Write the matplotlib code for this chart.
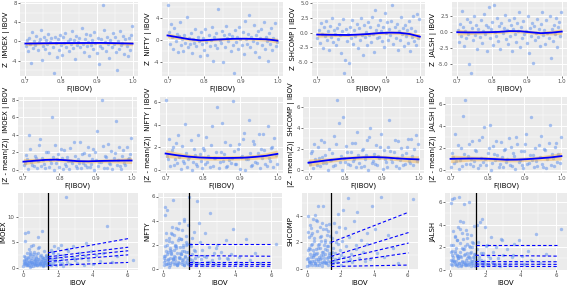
import matplotlib
matplotlib.use("Agg")
import matplotlib.pyplot as plt
import numpy as np
from matplotlib.ticker import MultipleLocator, AutoMinorLocator, FormatStrFormatter

plt.rcParams['axes.unicode_minus'] = False
plt.rcParams['font.family'] = ['DejaVu Sans']

names = ["IMOEX", "NIFTY", "SHCOMP", "JALSH"]

# ---- row 1 / row 2 : Z | IBOV against F(IBOV), upper tail ----
f_ibov = [0.701,0.704,0.707,0.710,0.713,0.716,0.719,0.722,0.725,0.728,
          0.731,0.734,0.737,0.740,0.743,0.746,0.749,0.752,0.755,0.758,
          0.761,0.764,0.767,0.770,0.773,0.776,0.779,0.782,0.785,0.788,
          0.791,0.794,0.797,0.800,0.803,0.806,0.809,0.812,0.815,0.818,
          0.821,0.824,0.827,0.830,0.833,0.836,0.839,0.842,0.845,0.848,
          0.851,0.854,0.857,0.860,0.863,0.866,0.869,0.872,0.875,0.878,
          0.881,0.884,0.887,0.890,0.893,0.896,0.899,0.902,0.905,0.908,
          0.911,0.914,0.917,0.920,0.923,0.926,0.929,0.932,0.935,0.938,
          0.941,0.944,0.947,0.950,0.953,0.956,0.959,0.962,0.965,0.968,
          0.971,0.974,0.977,0.980,0.983,0.986,0.989,0.992,0.995,0.998]

z_imoex = [-1.0,0.3,-2.1,0.8,-0.5,-4.4,1.9,-1.3,0.1,-0.8,
           1.2,-1.8,-0.2,0.6,2.4,-3.9,-0.9,0.9,-1.5,0.2,
           -0.6,1.6,-2.4,-0.1,0.7,-1.2,-6.5,1.0,-0.4,-3.3,
           0.4,-1.7,1.4,-0.7,-2.8,0.9,-0.3,1.8,-1.1,0.0,
           -1.9,0.6,-0.5,2.1,-1.4,0.3,-3.6,1.1,-0.8,-0.2,
           0.8,-1.2,2.8,-0.6,-2.2,0.4,1.5,-1.0,-0.1,-3.0,
           1.3,-0.7,0.2,-1.6,2.0,-0.4,-2.5,0.7,-4.8,-0.9,
           0.5,-1.3,7.5,2.3,-0.2,-2.0,1.0,-0.6,-3.4,0.3,
           -1.1,1.7,-0.5,0.9,-2.3,-6.0,0.1,-1.5,2.2,-0.8,
           -0.3,1.2,-2.7,0.4,-1.0,-3.0,0.8,-1.8,1.4,3.2]
z_nifty = [6.3,1.4,-0.8,2.9,0.5,-1.6,2.2,-0.3,1.1,-2.3,
           0.7,3.2,-1.0,0.2,-2.0,0.9,-0.5,4.2,-1.4,0.4,
           -0.8,1.3,-2.5,0.1,-0.6,2.0,-1.2,0.6,-0.2,-3.0,
           1.5,-0.7,0.3,-1.8,1.9,-0.4,-2.8,0.8,-1.1,-0.1,
           2.3,-3.8,0.5,-0.9,1.2,-1.5,5.7,0.0,-0.6,1.7,
           -4.0,0.9,-1.3,2.6,0.4,-0.2,1.0,-2.1,0.7,-0.9,
           -6.0,1.8,-0.4,0.6,-1.7,2.4,0.2,-1.0,1.4,-2.6,
           3.4,0.1,-0.8,1.1,4.6,-1.4,0.5,-0.3,2.7,-2.2,
           0.8,-0.5,1.6,-3.1,0.3,2.0,-0.9,3.3,-1.6,0.6,
           -0.2,-3.8,1.2,-0.7,2.1,-1.9,0.4,3.0,-1.2,-0.4]
z_shcomp = [-0.9,0.4,-1.8,1.6,-0.3,-2.6,0.9,-0.6,2.0,-1.3,
            0.2,-3.0,1.1,-0.8,2.5,-1.6,0.5,-0.2,-2.2,0.8,
            -1.1,1.4,-0.5,-3.4,0.3,2.3,-6.8,-4.6,0.6,-1.5,
            -0.2,-5.2,1.0,-0.9,2.1,-1.9,0.4,-0.6,1.5,-2.7,
            0.7,-1.2,2.4,-0.4,-3.8,1.2,-0.8,0.1,-2.1,1.8,
            -0.5,0.9,-1.6,2.7,-0.2,-3.3,3.8,0.5,-1.0,1.3,
            -0.7,2.2,0.3,-1.5,1.0,-2.4,3.3,-0.1,1.7,-1.2,
            0.6,-0.4,2.0,4.6,-2.0,0.9,-0.9,1.5,-3.0,0.2,
            -1.3,2.6,-0.3,0.8,-2.3,1.2,-0.6,0.4,-1.8,2.0,
            -3.1,0.7,-0.8,2.8,-1.5,0.3,-2.2,3.2,-1.0,2.3]
z_jalsh = [0.3,-1.5,1.2,-0.6,3.3,0.8,-2.2,0.1,-0.9,2.0,
           -0.3,-4.9,1.5,-6.3,0.6,-1.2,2.4,-0.5,1.0,-2.6,
           0.4,-0.8,1.8,-1.7,0.2,2.7,-0.4,1.1,-3.0,0.7,
           3.9,-1.0,0.5,1.6,-2.0,4.1,0.0,-0.6,2.2,-1.4,
           0.9,-2.6,1.4,-0.2,0.6,2.6,-1.1,0.3,-1.8,1.9,
           -0.7,1.0,-2.9,0.5,2.1,-0.3,-1.5,1.3,0.1,3.0,
           -2.3,0.7,-0.9,1.7,-0.4,0.2,-1.7,2.4,-3.2,0.6,
           -0.6,1.4,-4.8,0.9,-1.3,-0.2,2.0,-0.8,0.4,-2.2,
           1.2,3.1,-0.5,0.3,-1.9,1.8,-0.1,-1.0,2.5,-4.1,
           0.5,-1.4,1.1,-0.3,2.1,-2.4,0.7,1.5,-0.6,3.0]

# smoother (loess)
smooth_x = [0.70,0.73,0.76,0.79,0.82,0.85,0.88,0.91,0.94,0.97,1.00]
smooth_z = [[-0.45,-0.42,-0.38,-0.36,-0.35,-0.34,-0.33,-0.32,-0.35,-0.40,-0.45],
            [0.80,0.45,0.10,-0.10,0.00,0.10,0.18,0.20,0.15,0.10,-0.15],
            [-0.35,-0.38,-0.40,-0.42,-0.35,-0.25,-0.10,-0.02,-0.05,-0.25,-0.70],
            [-0.05,-0.08,-0.08,-0.05,0.00,0.12,0.10,-0.05,-0.20,-0.12,0.05]]
smooth_abs = [[0.92,1.02,1.12,1.15,1.08,0.98,0.96,1.00,1.02,1.04,1.05],
              [1.45,1.30,1.18,1.10,1.06,1.05,1.06,1.08,1.15,1.25,1.42],
              [0.68,0.82,0.95,1.06,1.14,1.20,1.22,1.18,1.10,1.04,1.00],
              [1.00,1.02,1.03,1.02,0.98,0.92,0.93,0.98,1.05,1.13,1.25]]
band_z = [0.45,0.35,0.28,0.25,0.25,0.25,0.25,0.25,0.28,0.35,0.45]
band_abs = [0.35,0.28,0.22,0.20,0.20,0.20,0.20,0.20,0.22,0.28,0.35]

# ---- row 3 : |Z| of each index against IBOV ----
ibov = [0.02,0.05,0.08,0.10,0.12,0.15,0.18,0.20,0.22,0.25,
        0.27,0.30,0.32,0.35,0.37,0.40,0.42,0.45,0.47,0.50,
        0.52,0.55,0.57,0.60,0.62,0.65,0.67,0.70,0.72,0.75,
        0.77,0.80,0.82,0.85,0.87,0.90,0.92,0.95,0.97,1.00,
        1.02,1.05,1.07,1.10,1.12,1.15,1.17,1.20,1.22,1.25,
        1.27,1.30,1.32,1.35,1.38,1.41,0.03,0.07,0.13,0.17,
        0.23,0.28,0.33,0.38,0.43,0.48,0.53,0.58,0.63,0.68,
        0.73,0.78,0.83,0.88,0.93,0.98,1.03,1.08,1.13,1.18,
        1.23,1.28,1.33,1.40,0.06,0.16,0.26,0.36,0.46,0.56,
        0.66,0.76,0.86,0.96,1.06,1.16,1.26,1.36,0.11,0.41,
        1.48,1.52,1.55,1.58,1.62,1.66,1.70,1.74,1.78,1.83,
        1.88,1.93,1.98,2.04,2.10,2.16,2.22,2.30,2.38,2.45,
        2.52,2.60,2.70,2.80,2.90,3.00,3.10,3.22,3.35,3.48,
        3.60,3.75,3.90,4.05,4.20,4.40,4.60,4.85,5.10,5.40,
        1.50,1.60,1.72,1.85,2.00,2.25,2.55,2.95,3.55,6.30]

abs_imoex = [0.3,1.2,0.6,2.1,0.9,1.6,0.4,2.8,1.1,0.7,
             1.9,0.5,3.6,1.3,0.2,2.4,0.8,1.5,4.2,0.6,
             1.0,2.2,0.3,1.7,0.9,3.1,0.5,1.4,2.6,0.8,
             1.8,0.4,1.2,2.9,0.7,1.6,4.0,0.9,2.3,0.5,
             1.3,0.6,2.0,7.2,1.1,0.3,1.9,3.3,0.8,1.5,
             0.4,2.5,1.0,0.6,1.7,0.9,0.8,2.3,6.8,1.4,
             0.5,7.0,1.1,2.7,0.3,1.8,0.9,4.5,1.3,0.7,
             2.1,0.4,1.6,3.8,1.0,0.6,2.4,1.2,0.5,1.9,
             0.8,1.4,2.2,0.5,1.5,0.9,2.0,0.4,1.1,2.6,
             0.7,1.3,6.0,0.9,1.7,0.4,1.0,2.1,5.3,3.0,
             0.6,2.2,1.1,3.5,0.4,1.6,2.8,0.9,4.3,1.3,
             0.5,2.0,3.9,1.2,0.7,4.4,1.7,0.3,2.5,14.0,
             1.0,3.2,0.6,2.1,4.2,1.4,0.8,2.9,1.8,0.5,
             4.9,1.5,3.3,0.7,2.4,1.2,2.8,8.2,1.0,2.2,
             1.8,0.5,3.0,1.4,2.6,0.9,3.6,1.9,2.3,1.5]
abs_nifty = [0.3,1.1,4.5,0.7,5.1,1.5,0.4,2.0,4.9,0.8,
             1.4,0.2,2.6,0.9,1.7,0.5,3.0,1.2,0.6,2.2,
             0.9,5.7,1.6,0.4,2.8,1.0,0.7,1.9,3.4,0.3,
             1.3,2.4,0.6,1.0,3.8,0.5,1.8,0.9,2.5,1.2,
             0.4,3.2,1.5,0.8,2.0,0.3,4.1,1.1,0.6,2.7,
             1.4,0.5,2.1,3.6,0.9,6.0,0.6,1.9,0.4,3.0,
             1.2,0.7,2.3,0.3,1.5,2.9,0.8,1.1,0.5,2.0,
             1.7,0.4,3.3,0.9,1.3,2.5,0.6,1.8,0.3,4.0,
             1.0,2.2,0.7,1.4,0.9,2.4,0.5,1.6,3.5,0.8,
             1.9,0.3,2.6,1.2,0.7,1.5,2.0,0.4,1.1,1.3,
             0.8,1.9,0.4,2.6,1.2,0.6,3.1,0.9,1.5,0.3,
             5.6,1.1,0.5,2.2,0.8,1.6,0.3,3.0,1.0,0.6,
             1.8,4.6,0.7,1.3,0.4,2.0,0.9,1.4,0.5,2.4,
             0.8,1.2,3.3,0.6,1.0,0.4,2.5,0.7,1.3,0.5,
             2.1,0.7,1.6,0.4,3.8,1.1,0.6,1.7,0.9,2.1]
abs_shcomp = [0.2,4.0,0.8,1.6,0.5,2.4,1.1,3.3,0.4,1.8,
              0.9,2.7,0.3,1.4,3.8,0.6,2.1,1.0,0.4,4.1,
              1.5,0.7,2.9,0.3,1.2,4.8,0.6,1.9,0.9,3.2,
              0.4,1.6,2.5,0.8,1.3,0.2,3.5,1.0,4.8,0.6,
              1.8,0.5,2.2,1.1,3.0,0.4,1.4,0.8,2.6,0.3,
              1.7,1.0,3.4,0.5,2.0,1.2,0.7,2.8,0.3,1.5,
              3.1,0.6,1.9,0.9,2.3,0.4,1.1,3.6,0.7,1.6,
              0.3,2.4,1.0,0.5,3.0,1.3,0.8,2.0,0.4,1.7,
              2.9,0.6,1.2,0.9,1.4,0.5,2.6,1.0,0.3,3.7,
              1.8,0.7,2.1,0.4,1.5,3.3,0.9,2.5,0.6,1.2,
              0.9,2.3,0.4,1.6,3.5,0.7,1.2,2.8,0.5,1.9,
              0.8,3.2,1.4,0.3,2.1,4.5,0.9,1.7,0.6,5.4,
              2.4,1.1,0.5,3.6,1.8,4.3,0.8,2.2,1.3,0.6,
              1.9,0.7,4.8,3.0,1.2,5.5,0.9,2.6,1.6,0.4,
              1.3,0.6,2.0,4.2,1.0,3.1,0.7,1.5,2.7,5.3]
abs_jalsh = [5.9,0.9,1.7,6.3,0.4,2.2,1.1,6.4,0.7,1.5,
             3.0,0.5,1.9,0.8,2.6,1.2,0.3,3.8,1.0,6.5,
             0.6,1.6,2.4,0.4,1.1,3.3,0.8,1.8,0.5,4.2,
             5.8,1.3,0.6,2.1,0.9,3.5,0.4,1.5,2.8,0.7,
             1.2,6.0,0.5,2.0,1.0,3.1,0.3,1.6,0.8,2.5,
             1.1,0.4,3.9,0.9,1.4,0.6,2.2,0.5,1.3,3.4,
             0.8,1.7,0.4,2.6,1.0,0.6,4.3,1.2,0.3,1.9,
             2.7,0.7,1.4,0.5,3.2,1.0,0.4,2.1,1.5,0.8,
             0.6,2.4,1.1,0.3,1.6,0.9,2.9,0.5,1.2,3.6,
             0.7,1.8,0.4,2.3,1.1,0.6,2.0,1.4,0.8,1.3,
             0.7,1.8,0.4,2.5,1.1,0.6,4.2,0.9,4.5,0.3,
             1.5,0.8,3.8,0.5,2.2,1.2,0.4,2.9,0.7,1.6,
             0.5,2.0,1.0,0.3,2.7,1.3,0.6,1.8,0.4,1.1,
             2.3,0.7,2.6,1.2,0.5,1.7,0.9,3.2,0.6,1.4,
             4.0,0.9,1.5,0.6,2.1,1.0,0.4,2.6,1.3,3.6]

ibov_cut = 1.44          # threshold (vertical line)
q_x = [1.44, 6.05]       # range of the quantile-regression lines
q_lines = [[(2.9, 5.7), (2.1, 4.0), (1.7, 3.3), (1.2, 2.5), (0.4, 1.0)],
           [(2.05, 2.05), (1.1, 1.05), (0.6, 0.6), (0.4, 0.4), (0.23, 0.22)],
           [(2.0, 4.3), (0.93, 2.75), (0.56, 1.95), (0.35, 1.2), (0.16, 0.27)],
           [(2.2, 2.2), (1.28, 1.2), (0.72, 0.7), (0.5, 0.47), (0.3, 0.28)]]

z_rows = [z_imoex, z_nifty, z_shcomp, z_jalsh]
abs_rows = [abs_imoex, abs_nifty, abs_shcomp, abs_jalsh]

# tick spacing per panel
ystep_r1 = [4, 4, 2.5, 2.5]
ystep_r2 = [2, 2, 2, 2]
ystep_r3 = [5, 2, 2, 2]

# panel boxes in pixels (left, right, top, bottom)
W, H = 572, 287
boxes = [[(20, 138, 2, 76), (162, 283, 2, 76), (312, 425, 2, 76), (452, 567, 2, 76)],
         [(18, 137, 97, 173), (160, 283, 97, 173), (303, 424, 97, 173), (445, 567, 97, 173)],
         [(18, 138, 193, 270), (158, 282, 193, 270), (302, 418, 193, 270), (445, 567, 193, 270)]]

PT = '#6495ED'
BG = '#EBEBEB'
LAB = 5.0


def make_ax(fig, box):
    l, r, t, b = box
    ax = fig.add_axes([l / W, 1 - b / H, (r - l) / W, (b - t) / H])
    ax.set_facecolor(BG)
    for s in ax.spines.values():
        s.set_visible(False)
    ax.set_axisbelow(True)
    ax.grid(which='major', color='white', lw=0.7)
    ax.grid(which='minor', color='white', lw=0.35)
    ax.tick_params(which='major', length=1.5, width=0.5, color='#333333',
                   labelsize=3.9, labelcolor='#4D4D4D', pad=0.8)
    ax.tick_params(which='minor', length=0)
    return ax


fig = plt.figure(figsize=(W / 100, H / 100), dpi=100)

for i, nm in enumerate(names):
    z = np.array(z_rows[i])
    zabs = np.abs(z - z.mean())

    # row 1
    ax = make_ax(fig, boxes[0][i])
    ax.scatter(f_ibov, z, s=6, color=PT, alpha=0.55, lw=0)
    sm = np.array(smooth_z[i]); bw = np.array(band_z)
    ax.fill_between(smooth_x, sm - bw, sm + bw, color='#F5B041', alpha=0.45, lw=0)
    ax.plot(smooth_x, sm, color='#0000FF', lw=1.3)
    ax.xaxis.set_major_locator(MultipleLocator(0.1))
    ax.xaxis.set_major_formatter(FormatStrFormatter('%.1f'))
    ax.yaxis.set_major_locator(MultipleLocator(ystep_r1[i]))
    if ystep_r1[i] == 2.5:
        ax.yaxis.set_major_formatter(FormatStrFormatter('%.1f'))
    else:
        ax.yaxis.set_major_formatter(FormatStrFormatter('%d'))
    ax.xaxis.set_minor_locator(AutoMinorLocator(2))
    ax.yaxis.set_minor_locator(AutoMinorLocator(2))
    ax.set_xlabel('F(IBOV)', fontsize=LAB, labelpad=1)
    ax.set_ylabel('Z  %s | IBOV' % nm, fontsize=LAB, labelpad=1)

    # row 2
    ax = make_ax(fig, boxes[1][i])
    ax.scatter(f_ibov, zabs, s=6, color=PT, alpha=0.55, lw=0)
    sm = np.array(smooth_abs[i]); bw = np.array(band_abs)
    ax.fill_between(smooth_x, sm - bw, sm + bw, color='#F5B041', alpha=0.45, lw=0)
    ax.plot(smooth_x, sm, color='#0000FF', lw=1.3)
    ax.xaxis.set_major_locator(MultipleLocator(0.1))
    ax.xaxis.set_major_formatter(FormatStrFormatter('%.1f'))
    ax.yaxis.set_major_locator(MultipleLocator(ystep_r2[i]))
    ax.yaxis.set_major_formatter(FormatStrFormatter('%d'))
    ax.xaxis.set_minor_locator(AutoMinorLocator(2))
    ax.yaxis.set_minor_locator(AutoMinorLocator(2))
    ax.set_xlabel('F(IBOV)', fontsize=LAB, labelpad=1)
    ax.set_ylabel('|Z - mean(Z)|  %s | IBOV' % nm, fontsize=LAB, labelpad=1)

    # row 3
    ax = make_ax(fig, boxes[2][i])
    ax.scatter(ibov, abs_rows[i], s=6, color=PT, alpha=0.55, lw=0)
    ax.axvline(ibov_cut, color='black', lw=0.9)
    for y0, y1 in q_lines[i]:
        ax.plot(q_x, [y0, y1], color='#0000FF', lw=0.8, ls=(0, (3, 2)))
    ax.xaxis.set_major_locator(MultipleLocator(2))
    ax.yaxis.set_major_locator(MultipleLocator(ystep_r3[i]))
    ax.xaxis.set_major_formatter(FormatStrFormatter('%d'))
    ax.yaxis.set_major_formatter(FormatStrFormatter('%d'))
    ax.xaxis.set_minor_locator(AutoMinorLocator(2))
    ax.yaxis.set_minor_locator(AutoMinorLocator(2))
    ax.set_xlabel('IBOV', fontsize=LAB, labelpad=1)
    ax.set_ylabel(nm, fontsize=LAB, labelpad=1)

fig.savefig('out.png', dpi=100)
